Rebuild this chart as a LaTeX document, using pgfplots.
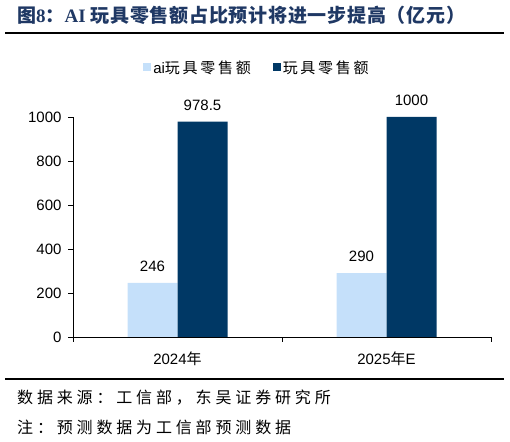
\documentclass[border=0pt]{standalone}
\usepackage{fontspec}
\usepackage{pgfplots}
\pgfplotsset{compat=1.18}
\setmainfont{Liberation Sans}
\newfontfamily\cjk{Noto Sans CJK SC}
\newfontfamily\cjks[LetterSpace=24]{Noto Sans CJK SC}
\newfontfamily\cjkl[LetterSpace=18]{Noto Sans CJK SC}
\newfontfamily\cjkt[LetterSpace=4]{Noto Sans CJK SC}
\newfontfamily\tnr{Liberation Serif}
\definecolor{lightbar}{RGB}{197,224,250}
\definecolor{darkbar}{RGB}{0,56,101}
\definecolor{titleblue}{RGB}{31,56,100}

\begin{document}
\begin{tikzpicture}
\path[use as bounding box] (0,0) rectangle (510bp,442bp);
% title and rules
\node[anchor=west, text=titleblue, font=\fontsize{19bp}{22bp}\selectfont\bfseries, inner sep=0pt]
  at (17bp,427bp) {{\cjk 图}{\tnr 8}{\cjk ：}{\tnr AI }{\cjkt 玩具零售额占比预计将进一步提高（亿元）}};
\draw[line width=1.6bp] (5bp,409bp) -- (504bp,409bp);
\draw[line width=1.6bp] (5bp,63bp) -- (504bp,63bp);
\node[anchor=west, inner sep=0pt, font=\fontsize{16bp}{18bp}\selectfont\cjks]
  at (17bp,44bp) {数据来源：工信部，东吴证券研究所};
\node[anchor=west, inner sep=0pt, font=\fontsize{16bp}{18bp}\selectfont\cjks]
  at (17bp,15bp) {注：预测数据为工信部预测数据};
\begin{axis}[
  at={(73bp,105bp)}, anchor=south west,
  scale only axis, width=418bp, height=220bp,
  ybar=0, bar width=50bp,
  xmin=-0.5, xmax=1.5, ymin=0, ymax=1000,
  ytick={0,200,...,1000},
  xtick={-0.5,0.5,1.5}, xticklabels={},
  extra x ticks={0,1},
  extra x tick labels={2024{\cjk 年},2025{\cjk 年}E},
  extra x tick style={major tick length=0pt, tick label style={yshift=-11bp}},
  axis x line*=bottom, axis y line*=left,
  axis line style={line width=0.8bp},
  tick style={black, line width=0.8bp},
  major tick length=5bp,
  tick align=outside,
  x tick label style={font=\fontsize{15bp}{18bp}\selectfont},
  y tick label style={font=\fontsize{15bp}{18bp}\selectfont, xshift=-3bp},
  /pgf/number format/assume math mode=true,
  /pgf/number format/1000 sep={},
  scaled y ticks=false,
  nodes near coords,
  nodes near coords style={font=\fontsize{15bp}{18bp}\selectfont, yshift=8bp,
    /pgf/number format/fixed, /pgf/number format/1000 sep={}},
  legend style={at={(0.44,1.225)}, anchor=center, draw=none, fill=none,
    legend columns=2, font=\fontsize{15bp}{17bp}\selectfont,
    /tikz/every even column/.append style={column sep=20bp}},
  legend image code/.code={\fill[#1] (0bp,-4bp) rectangle (8bp,4bp);},
  clip=false,
]
\addplot[fill=lightbar, draw=none] coordinates {(0,246) (1,290)};
\addlegendentry{ai{\cjkl 玩具零售额}}
\addplot[fill=darkbar, draw=none] coordinates {(0,978.5) (1,1000)};
\addlegendentry{{\cjkl 玩具零售额}}
\end{axis}
\end{tikzpicture}
\end{document}
